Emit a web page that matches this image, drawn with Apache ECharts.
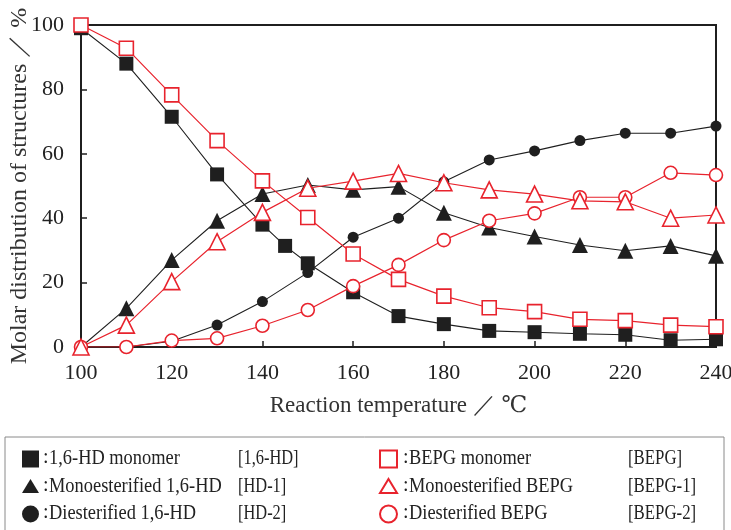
<!DOCTYPE html>
<html><head><meta charset="utf-8">
<script src="https://cdn.jsdelivr.net/npm/echarts@6/dist/echarts.min.js"></script>
<style>html,body{margin:0;padding:0;background:#fff}#c{width:731px;height:530px}</style>
</head><body><div id="c"></div>
<script>
const hdMonomerX = [100,110,120,130,140,145,150,160,170,180,190,200,210,220,230,240];
const hdMonomer  = [99,88,71.5,53.6,38,31.4,26,17,9.6,7.1,5.0,4.6,4.1,3.8,2.1,2.4];
const stdX = [100,110,120,130,140,150,160,170,180,190,200,210,220,230,240];
const hd1  = [0,12.0,27.0,39.2,47.5,50.3,48.8,49.8,41.7,37.1,34.3,31.7,29.9,31.4,28.3];
const hd2  = [0,0,1.8,6.8,14.1,23.1,34.1,40.0,51.3,58.1,60.9,64.1,66.4,66.4,68.6];
const bepg  = [100,92.8,78.3,64.1,51.6,40.2,28.9,21.0,15.8,12.2,11.0,8.6,8.2,6.8,6.3];
const bepg1 = [0,6.8,20.3,32.7,41.8,49.3,51.5,53.9,51.0,48.8,47.5,45.4,45.1,40.0,41.0];
const bepg2 = [0,0,2.0,2.7,6.6,11.5,18.9,25.5,33.2,39.2,41.5,46.5,46.5,54.1,53.4];
const xTicks = [100,120,140,160,180,200,220,240];
const yTicks = [0,20,40,60,80,100];
const legendNames = ['1,6-HD monomer','Monoesterified 1,6-HD','Diesterified 1,6-HD'];
const legendCodes = ['[1,6-HD]','[HD-1]','[HD-2]'];
const legendNamesR = ['BEPG monomer','Monoesterified BEPG','Diesterified BEPG'];
const legendCodesR = ['[BEPG]','[BEPG-1]','[BEPG-2]'];

const BLACK = '#1f1f1f', RED = '#e8232d';
const SERIF = '"Liberation Serif","DejaVu Serif",serif';
const zip = (xs, ys) => xs.map((x,i)=>[x, ys[i]]);

function blackSeries(name, xs, ys, sym, size){
  return {name, type:'line', data:zip(xs,ys), symbol:sym, symbolSize:size,
    lineStyle:{color:BLACK,width:1.1}, itemStyle:{color:BLACK,borderWidth:0}, z:2, animation:false};
}
function redSeries(name, xs, ys, sym, size){
  return {name, type:'line', data:zip(xs,ys), symbol:sym, symbolSize:size,
    lineStyle:{color:RED,width:1.2}, itemStyle:{color:'#fff',borderColor:RED,borderWidth:1.6}, z:3, animation:false};
}

const graphic = [{type:'rect', shape:{x:5,y:437,width:719,height:110}, style:{fill:'none',stroke:'#8a8a8a',lineWidth:1}}];
const rowY = [459, 487, 514];
const markers = ['sq','tri','cir'];
function marker(kind, cx, cy, filled){
  const st = filled ? {fill:BLACK, stroke:BLACK, lineWidth:0} : {fill:'#fff', stroke:RED, lineWidth:2};
  if(kind==='sq') return {type:'rect', shape:{x:cx-8.5,y:cy-8.5,width:17,height:17}, style:st};
  if(kind==='tri') return {type:'polygon', shape:{points:[[cx,cy-8],[cx+8.5,cy+6],[cx-8.5,cy+6]]}, style:st};
  return {type:'circle', shape:{cx:cx,cy:cy,r:8.5}, style:st};
}
const txt = (x, y, s, sx) => ({type:'text', x:x, y:y, scaleX:sx, style:{text:s, font:'20px '+SERIF, fill:'#222', verticalAlign:'middle'}});
legendNames.forEach((n,i)=>{
  const y = rowY[i];
  graphic.push(marker(markers[i], 30.5, y, true));
  graphic.push(marker(markers[i], 388.5, y, false));
  graphic.push(txt(43, y-1, ':', 1));
  graphic.push(txt(49, y, n, 0.92));
  graphic.push(txt(238, y, legendCodes[i], 0.82));
  graphic.push(txt(403, y-1, ':', 1));
  graphic.push(txt(409, y, legendNamesR[i], 0.92));
  graphic.push(txt(628, y, legendCodesR[i], 0.84));
});

const chart = echarts.init(document.getElementById('c'));
chart.setOption({
  animation:false,
  grid:{left:81,right:15,top:25,bottom:183, show:true, borderColor:BLACK, borderWidth:2, containLabel:false, outerBoundsMode:'none'},
  xAxis:{type:'value', min:100, max:240, interval:20,
    name:'Reaction temperature ／ ℃', nameLocation:'middle', nameGap:47, nameMoveOverlap:false,
    nameTextStyle:{fontFamily:SERIF, fontSize:23, color:'#333'},
    axisLine:{lineStyle:{color:BLACK,width:2}}, axisTick:{inside:true,length:6,lineStyle:{color:BLACK,width:1.5}},
    axisLabel:{margin:15, fontFamily:SERIF, fontSize:22, color:'#222', formatter:v=>xTicks.includes(v)?String(v):''},
    splitLine:{show:false}},
  yAxis:{type:'value', min:0, max:100, interval:20,
    name:'Molar distribution of structures ／ %', nameLocation:'middle', nameGap:49, nameMoveOverlap:false,
    nameTextStyle:{fontFamily:SERIF, fontSize:24, color:'#333'},
    axisLine:{lineStyle:{color:BLACK,width:2}}, axisTick:{inside:true,length:6,lineStyle:{color:BLACK,width:1.5}},
    axisLabel:{margin:17, fontFamily:SERIF, fontSize:22, color:'#222', formatter:v=>yTicks.includes(v)?String(v):''},
    splitLine:{show:false}},
  series:[
    blackSeries('HD-2', stdX, hd2, 'circle', 11),
    blackSeries('HD-1', stdX, hd1, 'triangle', 16),
    blackSeries('1,6-HD', hdMonomerX, hdMonomer, 'rect', 14),
    redSeries('BEPG-2', stdX, bepg2, 'circle', 13),
    redSeries('BEPG-1', stdX, bepg1, 'triangle', 16),
    redSeries('BEPG', stdX, bepg, 'rect', 14)
  ],
  graphic: graphic
});
</script></body></html>
